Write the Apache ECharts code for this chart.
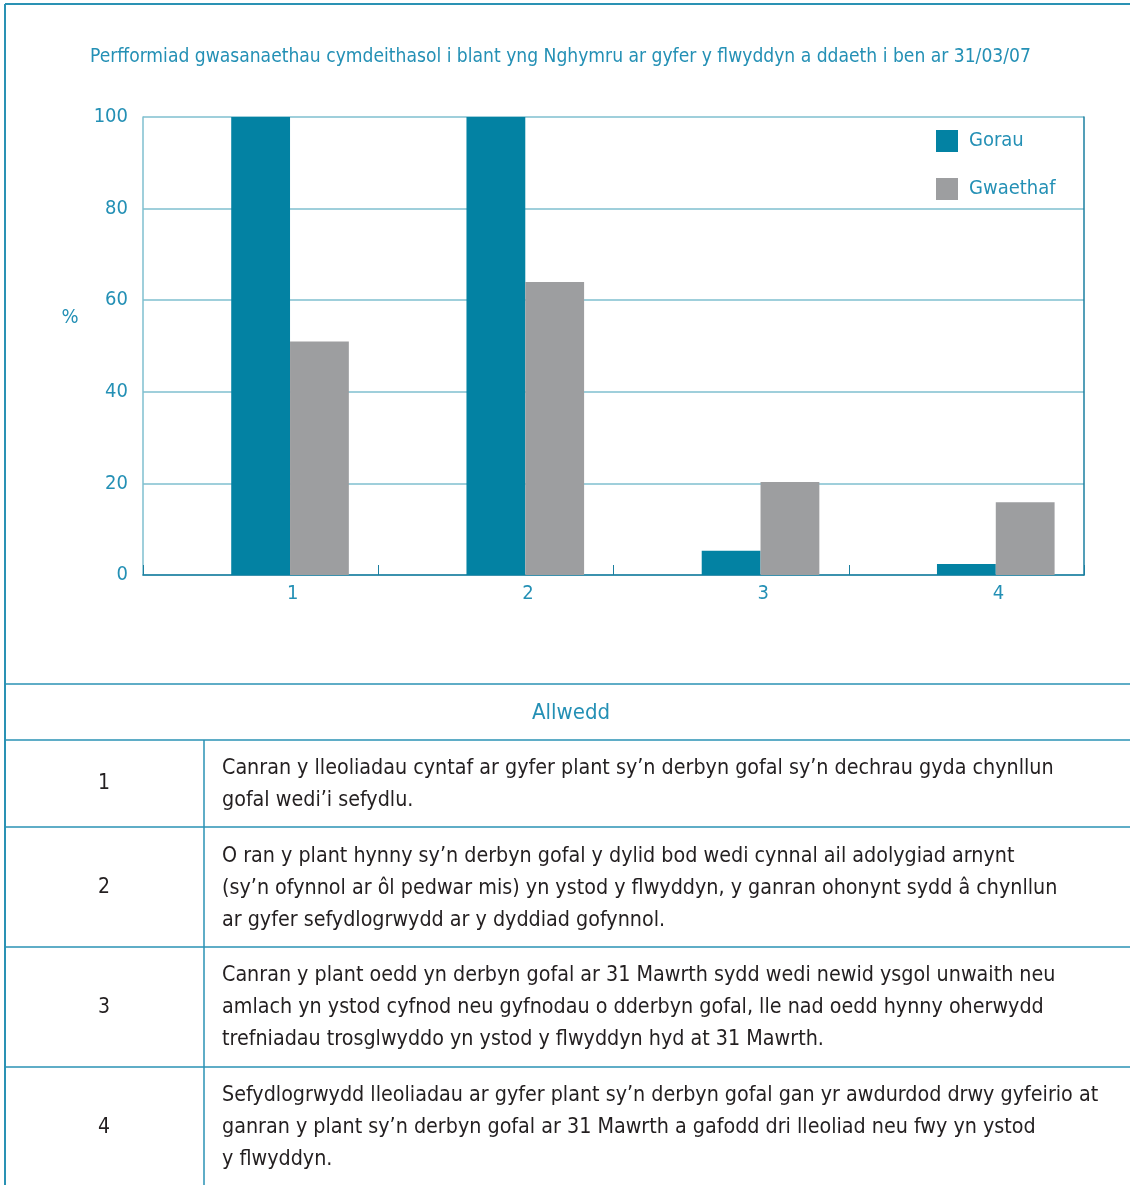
<!DOCTYPE html>
<html>
<head>
<meta charset="utf-8">
<script src="https://cdn.jsdelivr.net/npm/echarts@6/dist/echarts.min.js"></script>
<style>
html,body{margin:0;padding:0;background:#fff;}
#main{width:1130px;height:1185px;}
</style>
</head>
<body>
<div id="main"></div>
<script>
// data
const categories = ['1', '2', '3', '4'];
const gorau = [100, 100, 5.3, 2.4];
const gwaethaf = [51, 64, 20.3, 15.9];
const spacer = [null, null, null, null]; // empty first slot, as in the original layout
const keyNumbers = ['1', '2', '3', '4'];
const keyTexts = [
	'Canran y lleoliadau cyntaf ar gyfer plant sy’n derbyn gofal sy’n dechrau gyda chynllun\ngofal wedi’i sefydlu.',
	'O ran y plant hynny sy’n derbyn gofal y dylid bod wedi cynnal ail adolygiad arnynt\n(sy’n ofynnol ar ôl pedwar mis) yn ystod y flwyddyn, y ganran ohonynt sydd â chynllun\nar gyfer sefydlogrwydd ar y dyddiad gofynnol.',
	'Canran y plant oedd yn derbyn gofal ar 31 Mawrth sydd wedi newid ysgol unwaith neu\namlach yn ystod cyfnod neu gyfnodau o dderbyn gofal, lle nad oedd hynny oherwydd\ntrefniadau trosglwyddo yn ystod y flwyddyn hyd at 31 Mawrth.',
	'Sefydlogrwydd lleoliadau ar gyfer plant sy’n derbyn gofal gan yr awdurdod drwy gyfeirio at\nganran y plant sy’n derbyn gofal ar 31 Mawrth a gafodd dri lleoliad neu fwy yn ystod\ny flwyddyn.'
];
const titleText = 'Perfformiad gwasanaethau cymdeithasol i blant yng Nghymru ar gyfer y flwyddyn a ddaeth i ben ar 31/03/07';

const FONT = '"Liberation Sans Narrow", "DejaVu Sans Condensed", "Roboto", sans-serif';
const TEAL = '#0382a3';
const TEXTTEAL = '#2490b5';
const LINE = '#2a92b4';
const GRID = '#7fbfcf';

// table rows: [top, bottom]
const rowLines = [740, 827, 947, 1067, 1185];

let graphics = [];
graphics.push({type:'line', shape:{x1:5,y1:4,x2:1130,y2:4}, style:{stroke:LINE, lineWidth:2}});
graphics.push({type:'line', shape:{x1:5,y1:4,x2:5,y2:1185}, style:{stroke:LINE, lineWidth:2}});
graphics.push({type:'line', shape:{x1:5,y1:684,x2:1130,y2:684}, style:{stroke:LINE, lineWidth:1.5}});
for (let i = 0; i < rowLines.length - 1; i++) {
	graphics.push({type:'line', shape:{x1:5,y1:rowLines[i],x2:1130,y2:rowLines[i]}, style:{stroke:LINE, lineWidth:1.5}});
}
graphics.push({type:'line', shape:{x1:204,y1:740,x2:204,y2:1185}, style:{stroke:LINE, lineWidth:1.5}});
graphics.push({type:'text', x:571, y:713, style:{text:'Allwedd', font:'22px ' + FONT, fill:TEXTTEAL, textAlign:'center', textVerticalAlign:'middle'}});
graphics.push({type:'text', x:70, y:318, style:{text:'%', font:'20px ' + FONT, fill:TEXTTEAL, textAlign:'center', textVerticalAlign:'middle'}});
const textMid = [784, 888, 1007.5, 1127.5];
for (let i = 0; i < keyNumbers.length; i++) {
	graphics.push({type:'text', x:104, y:textMid[i], style:{text:keyNumbers[i], font:'21px ' + FONT, fill:'#231f20', textAlign:'center', textVerticalAlign:'middle'}});
	graphics.push({type:'text', x:222, y:textMid[i], style:{text:keyTexts[i], font:'21.3px ' + FONT, lineHeight:32, fill:'#231f20', textAlign:'left', textVerticalAlign:'middle'}});
}

let mychart = echarts.init(document.getElementById('main'));
mychart.setOption({
	animation: false,
	textStyle: {fontFamily: FONT},
	title: {
		text: titleText, left: 85, top: 43,
		textStyle: {color: TEXTTEAL, fontSize: 19.1, fontWeight: 'normal', fontFamily: FONT}
	},
	legend: {
		data: ['Gorau', 'Gwaethaf'],
		orient: 'vertical', left: 936, top: 130, padding: 0,
		itemWidth: 22, itemHeight: 22, itemGap: 26,
		icon: 'rect',
		textStyle: {color: TEXTTEAL, fontSize: 20, fontFamily: FONT, padding: [0, 0, 0, 6]}
	},
	grid: {left: 143, top: 117, width: 941, height: 458, containLabel: false},
	xAxis: {
		type: 'category', data: categories,
		axisLine: {lineStyle: {color: '#1b7fa0', width: 1.5}},
		axisTick: {show: true, inside: true, length: 10, lineStyle: {color: '#1b7fa0'}},
		axisLabel: {color: TEXTTEAL, fontSize: 20, margin: 9, padding: [0, 0, 0, 64], fontFamily: FONT}
	},
	yAxis: [{
		type: 'value', min: 0, max: 100, interval: 20,
		axisLine: {show: true, lineStyle: {color: GRID, width: 1.5}},
		axisTick: {show: false},
		axisLabel: {color: TEXTTEAL, fontSize: 20, margin: 15, fontFamily: FONT},
		splitLine: {lineStyle: {color: GRID, width: 1.5}}
	}, {
		type: 'value', min: 0, max: 100, interval: 20, position: 'right',
		axisLine: {show: true, lineStyle: {color: '#1b7fa0', width: 1.5}},
		axisTick: {show: false}, axisLabel: {show: false}, splitLine: {show: false}
	}],
	series: [
		{name: '', type: 'bar', data: spacer, barGap: '0%', barCategoryGap: '25%', silent: true},
		{name: 'Gorau', type: 'bar', data: gorau, itemStyle: {color: TEAL}, barGap: '0%', barCategoryGap: '25%'},
		{name: 'Gwaethaf', type: 'bar', data: gwaethaf, itemStyle: {color: '#9d9ea0'}, barGap: '0%', barCategoryGap: '25%'}
	],
	graphic: graphics
});
</script>
</body>
</html>
